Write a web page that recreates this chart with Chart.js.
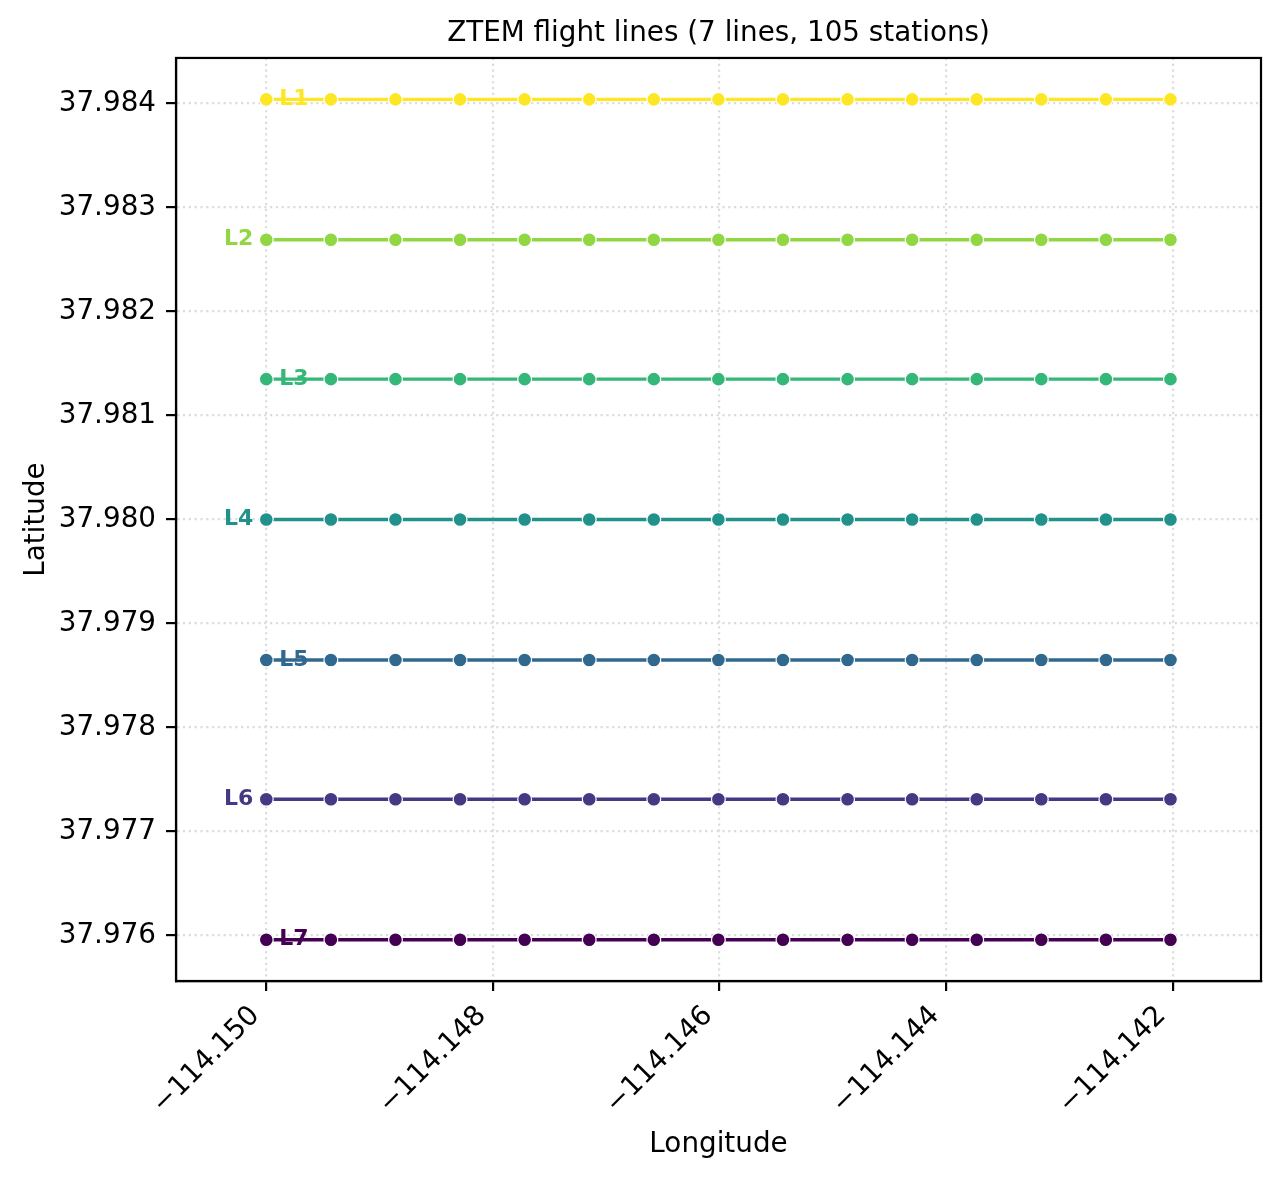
<!DOCTYPE html>
<html>
<head>
<meta charset="utf-8">
<title>ZTEM flight lines</title>
<script src="https://cdn.jsdelivr.net/npm/chart.js@4.4.1/dist/chart.umd.min.js"></script>
<style>
  html, body { margin: 0; padding: 0; background: #fff; }
  #wrap { width: 1280px; height: 1178px; position: relative; }
</style>
</head>
<body>
<div id="wrap"><canvas id="chartLineas"></canvas></div>
<script>
// Líneas de vuelo ZTEM: 7 líneas E-O, 15 estaciones cada una (105 en total)

const longitudes = [-114.15000, -114.14943, -114.14886, -114.14829, -114.14772,
  -114.14715, -114.14658, -114.14601, -114.14544, -114.14487,
  -114.14430, -114.14373, -114.14316, -114.14259, -114.14202];
const lineNames = ["L1", "L2", "L3", "L4", "L5", "L6", "L7"];
const lineLatitudes = [37.98404, 37.98269, 37.98135, 37.98000, 37.97865, 37.97731, 37.97596];
const lineColors = ["#fde725", "#90d743", "#35b779", "#21918c", "#31688e", "#443983", "#440154"];
const xTicks = [-114.150, -114.148, -114.146, -114.144, -114.142];
const yTicks = [37.976, 37.977, 37.978, 37.979, 37.980, 37.981, 37.982, 37.983, 37.984];

const FS = 27.8;
Chart.defaults.font.family = "'DejaVu Sans', sans-serif";
Chart.defaults.font.size = FS;
Chart.defaults.color = "#000";

// etiquetas L1..L7 junto a la primera estación
const lineLabels = {
  id: "lineLabels",
  afterDatasetsDraw(chart) {
    const { ctx, scales: { x, y } } = chart;
    ctx.save();
    ctx.font = "bold 22px 'DejaVu Sans'";
    ctx.textBaseline = "middle";
    lineNames.forEach((name, i) => {
      const px = x.getPixelForValue(longitudes[0]);
      const py = y.getPixelForValue(lineLatitudes[i]);
      const right = i % 2 === 0;
      ctx.fillStyle = lineColors[i];
      ctx.textAlign = right ? "left" : "right";
      ctx.fillText(name, px + (right ? 13 : -13), py);
    });
    ctx.restore();
  }
};

// marco completo del área de dibujo
const frame = {
  id: "frame",
  afterDraw(chart) {
    const { ctx, chartArea: a } = chart;
    ctx.save();
    ctx.strokeStyle = "#000";
    ctx.lineWidth = 2.2;
    ctx.strokeRect(a.left, a.top, a.right - a.left, a.bottom - a.top);
    ctx.restore();
  }
};

const datasets = lineNames.map((name, i) => ({
  label: name,
  data: longitudes.map(lon => ({ x: lon, y: lineLatitudes[i] })),
  showLine: true,
  borderColor: lineColors[i],
  backgroundColor: lineColors[i],
  borderWidth: 3.4,
  pointRadius: 6.9,
  pointBackgroundColor: lineColors[i],
  pointBorderColor: "#ffffff",
  pointBorderWidth: 1.2
}));

const gridOpts = {
  color: "#dcdcdc",
  lineWidth: 2.2,
  tickLength: 10,
  tickColor: "#000",
  tickWidth: 2.2,
  tickBorderDash: []
};
const borderOpts = { display: true, color: "#000", width: 2.2, dash: [2.2, 3.6] };

new Chart(document.getElementById("chartLineas"), {
  type: "scatter",
  data: { datasets },
  options: {
    responsive: true,
    maintainAspectRatio: false,
    animation: false,
    layout: { padding: { left: 0, right: 19, top: 0, bottom: 0 } },
    plugins: {
      legend: { display: false },
      tooltip: { enabled: false },
      title: {
        display: true,
        fullSize: false,
        text: "ZTEM flight lines (7 lines, 105 stations)",
        color: "#000",
        font: { size: FS, weight: "normal" },
        padding: { top: 17, bottom: 7.6 }
      }
    },
    scales: {
      x: {
        type: "linear",
        min: -114.150797,
        max: -114.141221,
        afterBuildTicks: s => { s.ticks = xTicks.map(v => ({ value: v })); },
        afterFit: s => { s.height = 197; },
        ticks: {
          autoSkip: false,
          minRotation: 45,
          maxRotation: 45,
          labelOffset: -11,
          padding: 8.5,
          color: "#000",
          callback: v => "\u2212" + Math.abs(v).toFixed(3)
        },
        grid: gridOpts,
        border: borderOpts,
        title: { display: true, text: "Longitude", color: "#000", padding: { top: 0, bottom: 16.5 } }
      },
      y: {
        type: "linear",
        min: 37.975563,
        max: 37.984438,
        afterBuildTicks: s => { s.ticks = yTicks.map(v => ({ value: v })); },
        afterFit: s => { s.width = 176; },
        ticks: {
          padding: 10,
          color: "#000",
          callback: v => v.toFixed(3)
        },
        grid: gridOpts,
        border: borderOpts,
        title: { display: true, text: "Latitude", color: "#000", padding: { top: 20, bottom: 0 } }
      }
    }
  },
  plugins: [lineLabels, frame]
});
</script>
</body>
</html>
